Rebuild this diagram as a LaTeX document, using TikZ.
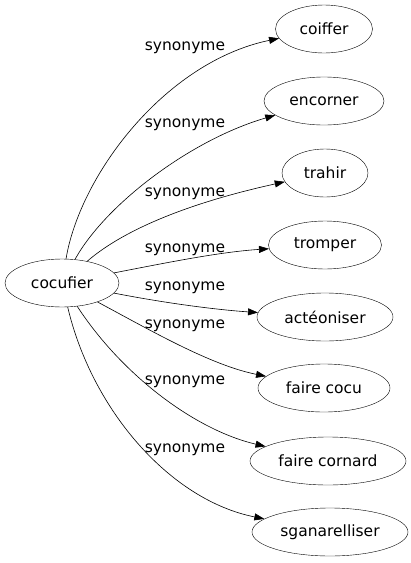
\documentclass[tikz,border=0pt]{standalone}
\usepackage{fontspec}
\setmainfont{DejaVu Sans}
\usetikzlibrary{arrows.meta,shapes.geometric}
\begin{document}
\begin{tikzpicture}[x=1pt,y=-1pt,
  word/.style={draw,ellipse,inner sep=0pt,minimum height=48pt,font=\fontsize{15.5}{18}\selectfont},
  rel/.style={draw,-{Triangle[length=10pt,width=7pt]},line width=0.6pt},
  lab/.style={font=\fontsize{15.5}{18}\selectfont,inner sep=0pt}]
\useasboundingbox (0,0) rectangle (411,563);
\node[word,minimum width=114pt] (c) at (62,283) {cocufier};
\node[word,minimum width=97pt] (t1) at (324,29) {coiffer};
\node[word,minimum width=120pt] (t2) at (324,101) {encorner};
\node[word,minimum width=86pt] (t3) at (325,173) {trahir};
\node[word,minimum width=113pt] (t4) at (325,245) {tromper};
\node[word,minimum width=136pt] (t5) at (325,317) {actéoniser};
\node[word,minimum width=132pt] (t6) at (324,388) {faire cocu};
\node[word,minimum width=156pt] (t7) at (328,461) {faire cornard};
\node[word,minimum width=156pt] (t8) at (330,532) {sganarelliser};
\draw[rel] (c) .. controls (80,175) and (165,62) .. (t1);
\draw[rel] (c) .. controls (105,205) and (190,140) .. (t2);
\draw[rel] (c) .. controls (135,220) and (220,196) .. (t3);
\draw[rel] (c) .. controls (170,262) and (220,252) .. (t4);
\draw[rel] (c) .. controls (170,304) and (220,310) .. (t5);
\draw[rel] (c) .. controls (150,330) and (210,365) .. (t6);
\draw[rel] (c) .. controls (122,375) and (195,430) .. (t7);
\draw[rel] (c) .. controls (92,410) and (170,500) .. (t8);
\node[lab] (l1) at (185,48) {synonyme};
\node[lab] (l2) at (185,125) {synonyme};
\node[lab] (l3) at (185,194) {synonyme};
\node[lab] (l4) at (185,250) {synonyme};
\node[lab] (l5) at (185,288) {synonyme};
\node[lab] (l6) at (185,326) {synonyme};
\node[lab] (l7) at (185,382) {synonyme};
\node[lab] (l8) at (185,450) {synonyme};
\end{tikzpicture}
\end{document}
